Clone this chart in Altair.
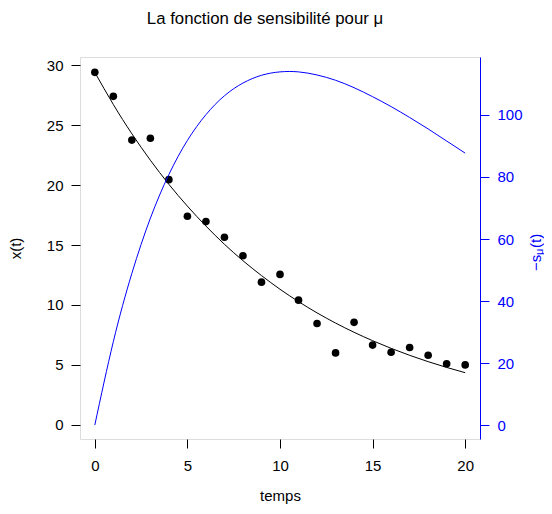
import altair as alt
import pandas as pd

# observed data
t_obs = list(range(21))
x_obs = [29.4, 27.4, 23.75, 23.9, 20.45, 17.4, 16.95, 15.65, 14.1, 11.9, 12.55,
         10.4, 8.45, 6.0, 8.55, 6.65, 6.05, 6.45, 5.8, 5.1, 5.0]

# fitted curve x(t) and sensitivity -s_mu(t), read at each time step
t_fit = list(range(21))
x_fit = [29.4, 26.72, 24.28, 22.07, 20.06, 18.24, 16.58, 15.06, 13.69, 12.45, 11.31,
         10.28, 9.34, 8.49, 7.72, 7.02, 6.38, 5.80, 5.27, 4.79, 4.35]
s_fit = [0.0, 26.9, 48.9, 66.7, 80.8, 91.8, 100.1, 106.2, 110.3, 112.8, 113.9,
         113.9, 112.9, 111.2, 108.8, 105.9, 102.7, 99.2, 95.5, 91.6, 87.7]

x_ticks = [0, 5, 10, 15, 20]
left_ticks = [0, 5, 10, 15, 20, 25, 30]
right_ticks = [0, 20, 40, 60, 80, 100]

FONT = "Liberation Sans"
BLUE = "#0000ff"

obs = pd.DataFrame({"t": t_obs, "x": x_obs})
fit = pd.DataFrame({"t": t_fit, "x": x_fit, "s": s_fit})

xscale = alt.Scale(domain=[-0.8, 20.8], nice=False, zero=False)
yleft = alt.Scale(domain=[-1.18, 30.68], nice=False, zero=False)
yright = alt.Scale(domain=[-4.5, 118.7], nice=False, zero=False)

xaxis = alt.Axis(title="temps", values=x_ticks, format="d", domain=False, grid=False,
                 tickSize=9, tickColor="black", labelPadding=10, labelFontSize=15,
                 labelColor="black", labelFont=FONT, titleFont=FONT, titleFontSize=15,
                 titleFontWeight="normal", titleColor="black", titleY=56,
                 titleBaseline="middle")
laxis = alt.Axis(title="x(t)", values=left_ticks, format="d", orient="left", domain=False,
                 grid=False, tickSize=9, tickColor="black", labelPadding=8,
                 labelFontSize=15, labelColor="black", labelFont=FONT, titleFont=FONT,
                 titleFontSize=15, titleFontWeight="normal", titleColor="black",
                 titleX=-64.5, titleY=191, titleAngle=270, titleAlign="center",
                 titleBaseline="middle")
raxis = alt.Axis(title="", values=right_ticks, format="d", orient="right", domain=True,
                 domainColor=BLUE, grid=False, tickSize=9, tickColor=BLUE,
                 labelPadding=8, labelFontSize=15, labelColor=BLUE, labelFont=FONT)

pts = alt.Chart(obs).mark_circle(size=58, color="black", opacity=1).encode(
    x=alt.X("t:Q", scale=xscale, axis=xaxis),
    y=alt.Y("x:Q", scale=yleft, axis=laxis),
)
line_x = alt.Chart(fit).mark_line(color="black", strokeWidth=1, interpolate="natural").encode(
    x=alt.X("t:Q", scale=xscale),
    y=alt.Y("x:Q", scale=yleft),
)
left = alt.layer(line_x, pts)

line_s = alt.Chart(fit).mark_line(color=BLUE, strokeWidth=1, interpolate="natural").encode(
    x=alt.X("t:Q", scale=xscale),
    y=alt.Y("s:Q", scale=yright, axis=raxis),
)

one = pd.DataFrame({"a": [0]})
lab1 = alt.Chart(one).mark_text(text="\u2212s", angle=270, align="left", baseline="middle",
                                font=FONT, fontSize=15, color=BLUE).encode(
    x=alt.value(456), y=alt.value(214))
lab2 = alt.Chart(one).mark_text(text="\u03bc", angle=270, align="left", baseline="middle",
                                font=FONT, fontSize=11, color=BLUE).encode(
    x=alt.value(460), y=alt.value(198))
lab3 = alt.Chart(one).mark_text(text="(t)", angle=270, align="left", baseline="middle",
                                font=FONT, fontSize=15, color=BLUE).encode(
    x=alt.value(456), y=alt.value(191))

chart = alt.layer(left, line_s, lab1, lab2, lab3).resolve_scale(y="independent").properties(
    width=400,
    height=382,
    autosize="none",
    padding={"left": 72, "top": 49, "right": 64, "bottom": 66},
    title=alt.TitleParams("La fonction de sensibilité pour \u03bc", font=FONT, fontSize=16.8,
                          fontWeight="normal", color="black", anchor="middle",
                          baseline="alphabetic", offset=16, dx=-15),
).configure_view(stroke="black", strokeWidth=1).configure(font=FONT)

chart.save("out.html", embed_options={"renderer": "svg", "actions": False})
